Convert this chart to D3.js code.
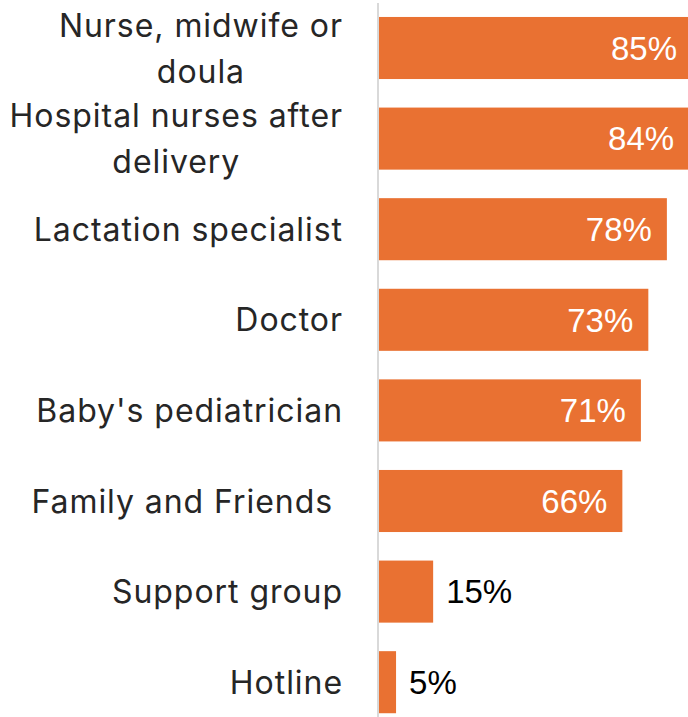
<!DOCTYPE html>
<html>
<head>
<meta charset="utf-8">
<script src="https://cdn.jsdelivr.net/npm/d3@7"></script>
<style>
  html, body { margin: 0; padding: 0; background: #fff; }
  svg { display: block; }
  .cat { white-space: pre; }
</style>
</head>
<body>
<div id="chart"></div>
<script>
// Where new parents got breastfeeding support
const categories = [
  ["Nurse, midwife or", "doula"],
  ["Hospital nurses after", "delivery"],
  ["Lactation specialist"],
  ["Doctor"],
  ["Baby's pediatrician"],
  ["Family and Friends "],
  ["Support group"],
  ["Hotline"]
];
const values = [85, 84, 78, 73, 71, 66, 15, 5];
const valueLabels = ["85%", "84%", "78%", "73%", "71%", "66%", "15%", "5%"];

const width = 688, height = 717;
const barColor = "#E97132";

const svg = d3.select("#chart").append("svg")
  .attr("width", width)
  .attr("height", height);

const keys = categories.map((c, i) => i);

const x = d3.scaleLinear().domain([0, 100]).range([377.5, 748.5]);
const y = d3.scaleBand().domain(keys).range([2.7, 727.5])
  .paddingInner(0.315).paddingOuter(0.1575);

// bars
svg.append("g").selectAll("rect")
  .data(keys)
  .join("rect")
  .attr("x", x(0))
  .attr("y", i => y(i))
  .attr("width", i => x(values[i]) - x(0))
  .attr("height", y.bandwidth())
  .attr("fill", barColor);

// vertical category axis line
svg.append("line")
  .attr("x1", 378).attr("x2", 378)
  .attr("y1", 3).attr("y2", height)
  .attr("stroke", "#d9d9d9")
  .attr("stroke-width", 2);

// category labels: each block sits right-aligned, its lines centred on one another
const lineGap = 46;
const labelRight = 343;
const catG = svg.append("g")
  .attr("font-family", "Inter, 'Noto Sans', sans-serif")
  .attr("font-size", 32)
  .attr("letter-spacing", "0.95px")
  .attr("fill", "#262626");
keys.forEach(i => {
  const lines = categories[i];
  const cy = y(i) + y.bandwidth() / 2;
  const texts = lines.map((ln, j) => catG.append("text")
    .attr("class", "cat")
    .attr("y", cy + (j - (lines.length - 1) / 2) * lineGap)
    .attr("dy", "0.36em")
    .text(ln));
  if (lines.length === 1) {
    texts[0].attr("text-anchor", "end").attr("x", labelRight);
  } else {
    const maxW = d3.max(texts, t => t.node().getComputedTextLength());
    texts.forEach(t => t.attr("text-anchor", "middle").attr("x", labelRight - maxW / 2));
  }
});

// value labels: inside end for long bars, outside for short ones
const valG = svg.append("g")
  .attr("font-family", "'Liberation Sans', Arial, sans-serif")
  .attr("font-size", 33);
keys.forEach(i => {
  const inside = values[i] > 30;
  const xe = Math.min(x(values[i]), width + 4);
  valG.append("text")
    .attr("x", inside ? xe - 15 : x(values[i]) + 13)
    .attr("y", y(i) + y.bandwidth() / 2)
    .attr("dy", "0.36em")
    .attr("text-anchor", inside ? "end" : "start")
    .attr("fill", inside ? "#ffffff" : "#000000")
    .text(valueLabels[i]);
});
</script>
</body>
</html>
